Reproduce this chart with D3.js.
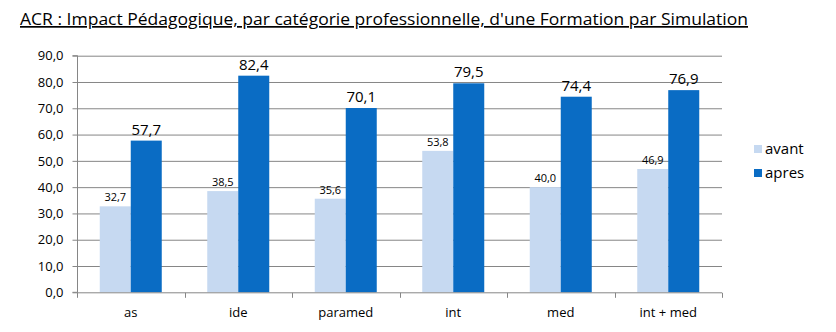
<!DOCTYPE html>
<html><head><meta charset="utf-8">
<script src="https://cdn.jsdelivr.net/npm/d3@7"></script>
<style>body{margin:0;background:#fff}svg{display:block}</style>
</head><body>
<svg id="c" width="836" height="332"></svg>
<script>
const categories = ["as", "ide", "paramed", "int", "med", "int + med"];
const avant = [32.7, 38.5, 35.6, 53.8, 40.0, 46.9];
const apres = [57.7, 82.4, 70.1, 79.5, 74.4, 76.9];
const seriesNames = ["avant", "apres"];
const yTicks = [0, 10, 20, 30, 40, 50, 60, 70, 80, 90];
const title = "ACR : Impact Pédagogique, par catégorie professionnelle, d'une Formation par Simulation";

const colors = {avant: "#c6d9f1", apres: "#0a6cc4"};
const font = "'Open Sans', 'DejaVu Sans', sans-serif";
const svg = d3.select("#c");
const m = {l: 77, r: 722, t: 55.7, b: 292.3};

const x = d3.scaleBand().domain(categories).range([m.l, m.r]);
const inner = d3.scaleBand().domain(seriesNames).range([0, 62]);
const y = d3.scaleLinear().domain([0, 90]).range([m.b, m.t]);
const fmt = v => v.toFixed(1).replace(".", ",");

// title
const t = svg.append("text").attr("x", 20).attr("y", 25)
  .attr("font-family", font).attr("font-size", 17).attr("fill", "#000")
  .attr("text-decoration", "underline").text(title);
const tw = t.node().getComputedTextLength();
t.attr("textLength", 728).attr("lengthAdjust", "spacingAndGlyphs");

// gridlines
svg.append("g").selectAll("line").data(yTicks.filter(d => d > 0)).join("line")
  .attr("x1", m.l).attr("x2", m.r).attr("y1", d => y(d) + 0.5).attr("y2", d => y(d) + 0.5)
  .attr("stroke", "#868686").attr("stroke-width", 1);

// y axis
const ya = svg.append("g").attr("transform", `translate(${m.l + 0.5},0)`)
  .call(d3.axisLeft(y).tickValues(yTicks).tickFormat(fmt).tickSize(5).tickPadding(9));
ya.select(".domain").attr("stroke", "#868686").attr("d", `M-5,${y(0)}H0V${y(90)}H-5`);
ya.selectAll(".tick line").attr("stroke", "#868686");
ya.selectAll(".tick text").attr("font-family", font).attr("font-size", 13).attr("fill", "#000");

// bars
const groups = svg.append("g").selectAll("g").data(categories).join("g")
  .attr("transform", d => `translate(${x(d) + (x.bandwidth() - 62) / 2},0)`);
const rows = categories.map((c, i) => ({c, i}));
groups.each(function(c, i) {
  const g = d3.select(this);
  const vals = [{s: "avant", v: avant[i]}, {s: "apres", v: apres[i]}];
  g.selectAll("rect").data(vals).join("rect")
    .attr("x", d => inner(d.s)).attr("width", inner.bandwidth())
    .attr("y", d => y(d.v)).attr("height", d => y(0) - y(d.v))
    .attr("fill", d => colors[d.s]);
  g.selectAll("text").data(vals).join("text")
    .attr("x", d => inner(d.s) + inner.bandwidth() / 2)
    .attr("y", d => y(d.v) - (d.s === "apres" ? 6 : 5))
    .attr("text-anchor", "middle").attr("font-family", font)
    .attr("font-size", d => d.s === "apres" ? 15 : 11).attr("fill", "#000")
    .text(d => fmt(d.v));
});

// x axis
const xa = svg.append("g").attr("transform", `translate(0,${y(0) + 0.5})`);
xa.append("line").attr("x1", m.l).attr("x2", m.r).attr("stroke", "#868686");
const bounds = categories.map(c => x(c)).concat([m.r]);
xa.selectAll("line.tk").data(bounds).join("line").attr("class", "tk")
  .attr("x1", d => Math.round(d) + 0.5).attr("x2", d => Math.round(d) + 0.5)
  .attr("y1", 0).attr("y2", 5).attr("stroke", "#868686");
xa.selectAll("text").data(categories).join("text")
  .attr("x", d => x(d) + x.bandwidth() / 2).attr("y", 24)
  .attr("text-anchor", "middle").attr("font-family", font).attr("font-size", 13)
  .attr("fill", "#000").text(d => d);

// legend
const lg = svg.append("g").selectAll("g").data(seriesNames).join("g")
  .attr("transform", (d, i) => `translate(754,${145 + i * 24})`);
lg.append("rect").attr("width", 8).attr("height", 8).attr("fill", d => colors[d]);
lg.append("text").attr("x", 11).attr("y", 8.5).attr("font-family", font)
  .attr("font-size", 15).attr("fill", "#000").text(d => d);
</script>
</body></html>
